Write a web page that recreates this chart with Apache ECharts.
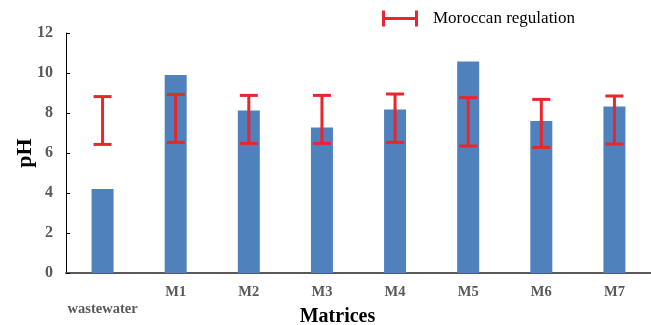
<!DOCTYPE html>
<html>
<head>
<meta charset="utf-8">
<script src="https://cdn.jsdelivr.net/npm/echarts@6/dist/echarts.min.js"></script>
<style>html,body{margin:0;padding:0;background:#fff}#c{width:651px;height:325px}</style>
</head>
<body>
<div id="c"></div>
<script>
var categories = ['\nwastewater', 'M1', 'M2', 'M3', 'M4', 'M5', 'M6', 'M7'];
var phValues = [4.2, 9.9, 8.13, 7.28, 8.18, 10.58, 7.6, 8.33];
var regLow = [6.43, 6.53, 6.48, 6.48, 6.53, 6.35, 6.28, 6.45];
var regHigh = [8.82, 8.93, 8.88, 8.88, 8.95, 8.77, 8.68, 8.85];
var yTicks = { min: 0, max: 12, interval: 2 };

var errData = categories.map(function (c, i) { return [i, regLow[i], regHigh[i]]; });
var RED = '#e8262b';
var FONT = '"Liberation Serif", "Times New Roman", serif';

var chart = echarts.init(document.getElementById('c'));
chart.setOption({
  animation: false,
  grid: { left: 66, right: 0, top: 33, bottom: 52, containLabel: false, outerBoundsMode: 'none' },
  legend: {
    left: 382, top: 10, padding: 0,
    itemWidth: 36, itemHeight: 16,
    data: [{ name: 'Moroccan regulation', icon: 'path://M0,0h3v16h-3z M3,6.5h30v3h-30z M33,0h3v16h-3z', itemStyle: { color: RED } }],
    textStyle: { fontFamily: FONT, fontSize: 17, color: '#000', padding: [0, 0, 0, 10] }
  },
  xAxis: {
    type: 'category',
    data: categories,
    name: 'Matrices',
    nameLocation: 'middle',
    nameGap: 34,
    nameMoveOverlap: false,
    nameTextStyle: { fontFamily: FONT, fontSize: 20, fontWeight: 'bold', color: '#000', padding: [0, 42, 0, 0] },
    axisLine: { lineStyle: { color: '#595959', width: 2 } },
    axisTick: { show: false },
    axisLabel: { fontFamily: FONT, fontSize: 14.5, fontWeight: 'bold', color: '#595959', margin: 11, lineHeight: 17, interval: 0 }
  },
  yAxis: {
    type: 'value',
    min: yTicks.min, max: yTicks.max, interval: yTicks.interval,
    name: 'pH',
    nameLocation: 'middle',
    nameGap: 30,
    nameMoveOverlap: false,
    nameTextStyle: { fontFamily: FONT, fontSize: 22, fontWeight: 'bold', color: '#000' },
    axisLine: { show: true, lineStyle: { color: '#000', width: 1 } },
    axisTick: { show: true, inside: true, length: 4, lineStyle: { color: '#000' } },
    splitLine: { show: false },
    axisLabel: { fontFamily: FONT, fontSize: 16, fontWeight: 'bold', color: '#595959', margin: 13 }
  },
  series: [
    {
      name: 'pH',
      type: 'bar',
      data: phValues,
      barWidth: 22,
      itemStyle: { color: '#4f81bd' }
    },
    {
      name: 'Moroccan regulation',
      type: 'custom',
      data: errData,
      encode: { x: 0, y: [1, 2] },
      z: 10,
      renderItem: function (params, api) {
        var x = api.value(0);
        var lo = api.coord([x, api.value(1)]);
        var hi = api.coord([x, api.value(2)]);
        var hw = 9;
        var style = { stroke: RED, lineWidth: 3, fill: null };
        return {
          type: 'group',
          children: [
            { type: 'line', shape: { x1: lo[0], y1: lo[1], x2: hi[0], y2: hi[1] }, style: style },
            { type: 'line', shape: { x1: lo[0] - hw, y1: lo[1], x2: lo[0] + hw, y2: lo[1] }, style: style },
            { type: 'line', shape: { x1: hi[0] - hw, y1: hi[1], x2: hi[0] + hw, y2: hi[1] }, style: style }
          ]
        };
      }
    }
  ]
});
</script>
</body>
</html>
